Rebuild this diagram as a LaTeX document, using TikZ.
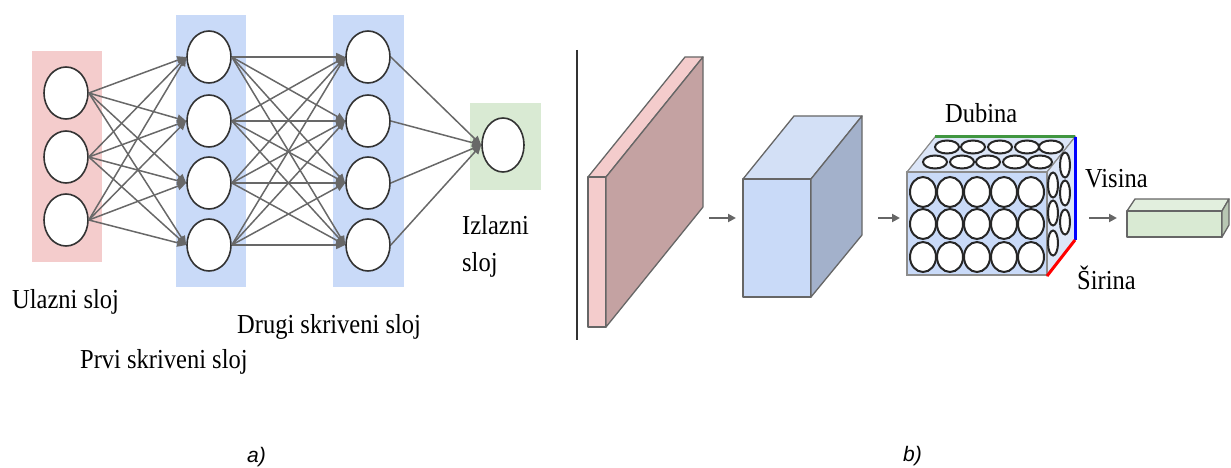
\documentclass[tikz,border=0pt]{standalone}
\usepackage{fontspec}
\setmainfont{Liberation Serif}
\newfontfamily\capfont{Liberation Sans}
\usetikzlibrary{shapes.geometric,arrows.meta}
\definecolor{lpink}{HTML}{F4CCCC}
\definecolor{lblue}{HTML}{C9DAF8}
\definecolor{lgreen}{HTML}{D9EAD3}
\definecolor{rose}{HTML}{C4A2A2}
\definecolor{bside}{HTML}{A3B1CB}
\definecolor{btop}{HTML}{D3E0F6}
\definecolor{edgegray}{HTML}{686868}
\newcommand\tallt[1]{\scalebox{1}[1.12]{#1}}
\tikzset{
  neuron/.style={ellipse, draw=black!80, line width=1.6pt, fill=white, minimum width=44pt, minimum height=52pt, inner sep=0pt},
  conn/.style={draw=edgegray, line width=1.5pt, -{Triangle[length=9pt,width=8pt]}},
  lbl/.style={font=\fontsize{24.5}{28}\selectfont, inner sep=0pt, anchor=base west},
  captionlbl/.style={font=\capfont\itshape\fontsize{21}{24}\selectfont, inner sep=0pt, anchor=base west},
  face/.style={draw=black!60, line width=1.3pt, line join=round},
  flow/.style={draw=black!60, line width=2pt, -{Triangle[length=8pt,width=8pt]}},
  cell/.style={draw=black!85, line width=2pt, fill=white},
}
\begin{document}
\begin{tikzpicture}[x=1pt, y=-1pt]
\useasboundingbox (0,0) rectangle (1231,468);
% ---------- a) layer backgrounds
\fill[lpink] (32,51) rectangle (102,262);
\fill[lblue] (176,15) rectangle (246,287);
\fill[lblue] (333,15) rectangle (404,287);
\fill[lgreen] (470,103) rectangle (541,190);
% neurons
\foreach \i/\y in {1/93,2/157,3/220} \node[neuron] (i\i) at (66,\y) {};
\foreach \i/\y in {1/57,2/121,3/183,4/245} \node[neuron] (h\i) at (209,\y) {};
\foreach \i/\y in {1/57,2/121,3/183,4/245} \node[neuron] (g\i) at (368,\y) {};
\node[neuron, minimum width=42pt, minimum height=54pt] (o1) at (503,145) {};
% connections
\foreach \a in {1,2,3} \foreach \b in {1,2,3,4} \draw[conn] (i\a.east) -- (h\b.west);
\foreach \a in {1,2,3,4} \foreach \b in {1,2,3,4} \draw[conn] (h\a.east) -- (g\b.west);
\foreach \a in {1,2,3,4} \draw[conn] (g\a.east) -- (o1.west);
% labels
\node[lbl] (tUl) at (12,308) {\tallt{Ulazni sloj}};
\node[lbl] (tDr) at (237,333) {\tallt{Drugi skriveni sloj}};
\node[lbl] (tPr) at (80,368) {\tallt{Prvi skriveni sloj}};
\node[lbl] (tIz) at (462,234) {\tallt{Izlazni}};
\node[lbl] (tSl) at (462,271) {\tallt{sloj}};
\node[captionlbl] (ca) at (247,462) {a)};
% ---------- separator
\draw[line width=1.6pt, black!80] (577,50) -- (577,340);
% ---------- b) pink slab
\filldraw[face, fill=lpink] (588,177) -- (685,57) -- (703,57) -- (606,177) -- cycle;
\filldraw[face, fill=lpink] (588,177) rectangle (606,327);
\filldraw[face, fill=rose] (606,177) -- (703,57) -- (703,207) -- (606,327) -- cycle;
% blue box
\filldraw[face, fill=btop] (743,179) -- (794,116) -- (862,116) -- (811,179) -- cycle;
\filldraw[face, fill=lblue] (743,179) rectangle (811,297);
\filldraw[face, fill=bside] (811,179) -- (862,116) -- (862,235) -- (811,297) -- cycle;
% neuron cube
\filldraw[draw=black!45, line width=1.2pt, fill=btop!80] (907,172) -- (935,137) -- (1075,137) -- (1047,172) -- cycle;
\filldraw[draw=black!45, line width=1.2pt, fill=btop!80] (1047,172) -- (1075,137) -- (1075,240) -- (1047,275) -- cycle;
\filldraw[draw=black!45, line width=1.2pt, fill=lblue] (907,172) rectangle (1047,275);
\foreach \x in {947,973,1000,1027,1051} \draw[cell] (\x,147) ellipse [x radius=12pt, y radius=6.5pt];
\foreach \x in {935,962,988,1015,1040} \draw[cell] (\x,162) ellipse [x radius=12pt, y radius=6.5pt];
\foreach \y in {165,193,222} \draw[cell] (1065,\y) ellipse [x radius=5pt, y radius=12.5pt];
\foreach \y in {185,213,243} \draw[cell] (1053,\y) ellipse [x radius=5pt, y radius=12.5pt];
\foreach \x in {923,950,977,1004,1031} \foreach \y in {192,224,257}
  \draw[cell] (\x,\y) ellipse [x radius=13pt, y radius=15pt];
\draw[line width=3pt, green!45!black!75] (935,137) -- (1075,137);
\draw[line width=3pt, blue] (1075,137) -- (1075,240);
\draw[line width=3pt, red] (1075,240) -- (1047,276);
% green box
\filldraw[face, fill=lgreen!75] (1127,211) -- (1135,199) -- (1229,199) -- (1222,211) -- cycle;
\filldraw[face, fill=lgreen] (1127,211) rectangle (1222,237);
\filldraw[face, fill=lgreen!85!black] (1222,211) -- (1229,199) -- (1229,225) -- (1222,237) -- cycle;
% flow arrows
\coordinate (f1s) at (709,218); \coordinate (f1e) at (736,218);
\coordinate (f2s) at (878,218); \coordinate (f2e) at (900,218);
\coordinate (f3s) at (1089,218); \coordinate (f3e) at (1117,218);
\draw[flow] (f1s) -- (f1e);
\draw[flow] (f2s) -- (f2e);
\draw[flow] (f3s) -- (f3e);
% labels
\node[lbl] (tDu) at (945,123) {\tallt{Dubina}};
\node[lbl] (tVi) at (1085,187) {\tallt{Visina}};
\node[lbl] (tSi) at (1077,289) {\tallt{Širina}};
\node[captionlbl] (cb) at (903,461) {b)};
\end{tikzpicture}
\end{document}
